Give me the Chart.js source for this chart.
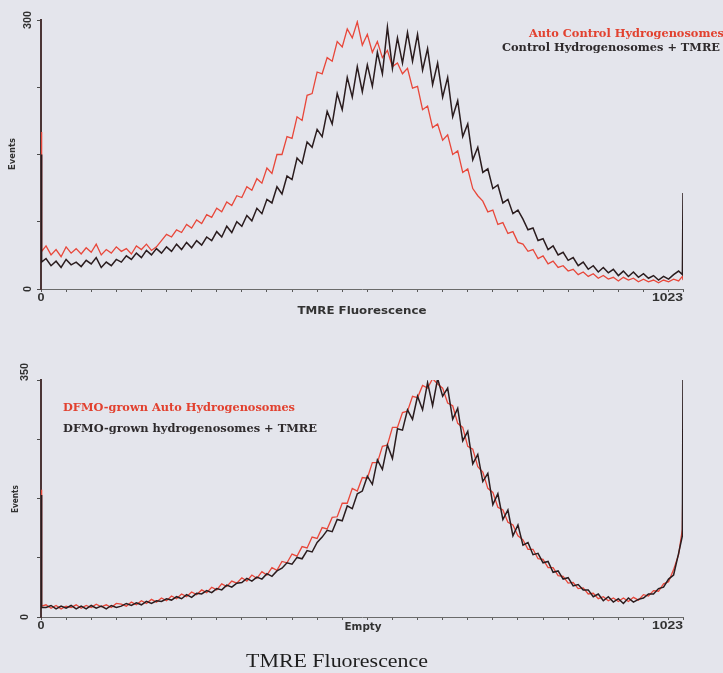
<!DOCTYPE html>
<html><head><meta charset="utf-8">
<script src="https://cdn.jsdelivr.net/npm/chart.js@4.4.1/dist/chart.umd.min.js"></script>
<style>
html,body{margin:0;padding:0;background:#e4e5ec;}
#wrap{position:relative;width:723px;height:673px;overflow:hidden;background:#e4e5ec;}
canvas{position:absolute;left:0;}
</style></head><body>
<div id="wrap">
<canvas id="c1" width="723" height="335" style="top:0"></canvas>
<canvas id="c2" width="723" height="338" style="top:335px"></canvas>
</div>
<script>
// Channel positions (0..1023)
const channels = [0,1,8,16,24,32,40,48,56,64,72,80,88,96,104,112,120,128,136,144,152,160,168,176,184,192,200,208,216,224,232,240,248,256,264,272,280,288,296,304,312,320,328,336,344,352,360,368,376,384,392,400,408,416,424,432,440,448,456,464,472,480,488,496,504,512,520,528,536,544,552,560,568,576,584,592,600,608,616,624,632,640,648,656,664,672,680,688,696,704,712,720,728,736,744,752,760,768,776,784,792,800,808,816,824,832,840,848,856,864,872,880,888,896,904,912,920,928,936,944,952,960,968,976,984,992,1000,1008,1016,1022,1023];

// Top panel: Auto Control Hydrogenosomes (red)
const topAuto = [175,42,
 48,38,44,36,47,40,45,
 39,46,41,50,38,44,40,47,
 42,45,39,48,44,50,43,47,
 54,61,58,66,63,72,68,77,
 73,83,80,90,86,97,93,104,
 102,114,110,123,118,135,129,150,
 150,170,168,192,188,216,218,242,
 240,258,254,276,270,290,280,298,
 272,284,264,276,258,266,248,252,
 240,246,224,226,200,204,180,184,
 166,172,150,154,130,134,112,104,
 98,86,88,72,74,62,64,52,
 50,42,44,34,37,28,31,24,
 26,20,22,16,19,14,17,12,
 15,11,13,9,13,10,12,8,
 11,8,10,7,10,8,11,9,
 14,10];

// Top panel: Control Hydrogenosomes + TMRE (black)
const topTMRE = [150,30,
 34,26,31,24,33,27,30,
 25,32,28,35,24,30,26,33,
 30,37,33,40,35,43,38,45,
 40,47,42,50,44,52,46,54,
 49,58,54,64,58,70,63,75,
 70,82,76,90,84,100,96,114,
 106,126,122,146,140,164,158,178,
 170,198,184,218,200,236,214,248,
 220,250,226,264,240,292,246,280,
 252,286,254,284,244,268,228,252,
 214,236,192,210,170,184,144,158,
 130,134,112,116,96,100,84,88,
 78,66,68,54,56,44,48,38,
 41,32,35,26,30,22,26,19,
 24,18,22,15,20,14,19,13,
 17,12,15,10,14,11,16,20,
 16,107];

// Bottom panel: DFMO-grown Auto Hydrogenosomes (red)
const botAuto = [188,16,
 18,13,17,12,16,14,18,
 13,17,14,19,15,18,14,20,
 19,16,22,18,24,20,26,22,
 28,24,31,27,34,30,37,33,
 40,36,44,40,49,45,53,50,
 58,53,62,57,67,62,73,69,
 82,80,93,90,104,102,118,116,
 132,130,147,148,168,168,190,186,
 206,205,228,228,252,254,280,280,
 302,304,326,324,342,338,352,344,
 338,316,312,286,280,252,248,222,
 214,190,184,162,158,140,136,120,
 114,100,100,86,85,73,73,61,
 60,50,51,42,43,34,35,27,
 30,24,28,23,28,23,29,25,
 33,31,39,38,49,52,70,92,
 130,222];

// Bottom panel: DFMO-grown hydrogenosomes + TMRE (black)
const botTMRE = [180,14,
 14,17,12,16,13,17,12,
 16,12,17,13,16,12,17,14,
 16,20,17,21,18,23,20,24,
 23,27,25,30,27,33,29,35,
 34,39,36,42,40,47,44,50,
 51,57,53,59,56,64,60,68,
 72,80,78,88,86,98,96,110,
 118,128,126,144,142,164,160,182,
 186,208,196,232,218,254,234,278,
 276,306,292,326,306,346,312,352,
 326,338,292,308,260,274,226,240,
 200,212,166,182,144,158,120,136,
 106,110,92,94,80,82,66,68,
 56,58,46,48,40,40,30,34,
 24,30,22,27,20,28,22,26,
 28,34,34,42,44,56,62,94,
 120,360];

const xTickValues = [0,40,80,120,160,200,240,280,320,360,400,440,480,520,560,600,640,680,720,760,800,840,880,920,960,1000,1023];
const xTickLabels = {0:'0', 1023:'1023'};
const topYTicks = [0,75,150,225,300];
const topYLabels = {0:'0', 300:'300'};
const botYTicks = [0,87.5,175,262.5,350];
const botYLabels = {0:'0', 350:'350'};

const RED = '#e8473a';
const DARK = '#2a1c1e';
const TEXT = '#323232';

function toXY(ys){ return channels.map((c,i)=>({x:c, y:ys[i]})); }

function fitText(ctx, text, x, y, w, align){
  const m = ctx.measureText(text).width;
  const s = w / m;
  ctx.save();
  ctx.translate(x, y);
  ctx.scale(s, 1);
  ctx.textAlign = align;
  ctx.textBaseline = 'middle';
  ctx.fillText(text, 0, 0);
  ctx.restore();
}

const textPlugin = {
  id: 'panelText',
  afterDraw(chart, args, opts){
    const ctx = chart.ctx;
    const xs = chart.scales.x, ys = chart.scales.y;
    const area = chart.chartArea;
    ctx.save();
    ctx.fillStyle = TEXT;
    ctx.font = 'bold 11px "Liberation Sans", Arial, sans-serif';
    for (const v of Object.keys(opts.xLabels)) {
      const val = +v;
      const px = xs.getPixelForValue(val);
      const t = opts.xLabels[v];
      if (val === 0) fitText(ctx, t, px, area.bottom + 9, 7, 'center');
      else fitText(ctx, t, px, area.bottom + 9, 31, 'right');
    }
    for (const v of Object.keys(opts.yLabels)) {
      const val = +v;
      const py = ys.getPixelForValue(val);
      const t = opts.yLabels[v];
      ctx.save();
      ctx.translate(opts.yLabelX, py + (opts.yLabelShift[v] || 0));
      ctx.rotate(-Math.PI/2);
      fitText(ctx, t, 0, 0, t.length * 6, 'center');
      ctx.restore();
    }
    ctx.font = 'bold 10px "DejaVu Sans", Arial, sans-serif';
    const xt = opts.xTitle;
    fitText(ctx, xt.text, xt.x, xt.y, xt.w, 'center');
    const yt = opts.yTitle;
    ctx.save();
    ctx.translate(yt.x, yt.y);
    ctx.rotate(-Math.PI/2);
    ctx.font = 'bold 9px "DejaVu Sans", Arial, sans-serif';
    fitText(ctx, yt.text, 0, 0, yt.w, 'center');
    ctx.restore();
    ctx.font = 'bold 11px "DejaVu Serif", "Liberation Serif", serif';
    for (const l of opts.legend) {
      ctx.fillStyle = l.color;
      fitText(ctx, l.text, l.x, l.y, l.w, l.align);
    }
    if (opts.caption) {
      const c = opts.caption;
      ctx.fillStyle = '#1e1e1e';
      ctx.font = '18px "Liberation Serif", "Times New Roman", serif';
      fitText(ctx, c.text, c.x, c.y, c.w, 'center');
    }
    ctx.restore();
  }
};

function makeChart(id, autoData, tmreData, yMax, yTicks, cfg){
  return new Chart(document.getElementById(id), {
    type: 'line',
    data: {
      datasets: [
        { label: cfg.tmreLabel, data: toXY(tmreData), borderColor: DARK, borderWidth: 1.5, pointRadius: 0, tension: 0, fill: false },
        { label: cfg.autoLabel, data: toXY(autoData), borderColor: RED, borderWidth: 1.3, pointRadius: 0, tension: 0, fill: false }
      ]
    },
    options: {
      responsive: false,
      animation: false,
      devicePixelRatio: 1,
      layout: { padding: cfg.padding },
      plugins: {
        legend: { display: false },
        tooltip: { enabled: false },
        panelText: cfg.text
      },
      scales: {
        x: {
          type: 'linear', min: 0, max: 1023,
          afterBuildTicks: s => { s.ticks = xTickValues.map(v => ({ value: v })); },
          afterFit: s => { s.height = cfg.xHeight; },
          ticks: { display: false },
          grid: { display: true, drawOnChartArea: false, drawTicks: true, tickLength: 3, color: '#5a5a5a', lineWidth: 1 },
          border: { display: true, color: '#6a6a6a', width: 1 }
        },
        y: {
          type: 'linear', min: 0, max: yMax,
          afterBuildTicks: s => { s.ticks = yTicks.map(v => ({ value: v })); },
          afterFit: s => { s.width = 41; },
          ticks: { display: false },
          grid: { display: true, drawOnChartArea: false, drawTicks: true, tickLength: 4, color: '#4a4a4a', lineWidth: 1 },
          border: { display: true, color: '#4b3536', width: 2 }
        }
      }
    },
    plugins: [textPlugin]
  });
}

makeChart('c1', topAuto, topTMRE, 300, topYTicks, {
  autoLabel: 'Auto Control Hydrogenosomes',
  tmreLabel: 'Control Hydrogenosomes + TMRE',
  padding: { left: 0, right: 40, top: 20, bottom: 0 },
  xHeight: 46,
  text: {
    xLabels: xTickLabels,
    yLabels: topYLabels,
    yLabelX: 28,
    yLabelShift: {},
    xTitle: { text: 'TMRE Fluorescence', x: 362, y: 311, w: 129 },
    yTitle: { text: 'Events', x: 13, y: 154, w: 32 },
    legend: [
      { text: 'Auto Control Hydrogenosomes', color: '#e2412f', x: 724, y: 34, w: 195, align: 'right' },
      { text: 'Control Hydrogenosomes + TMRE', color: '#2e2a2c', x: 720, y: 48, w: 218, align: 'right' }
    ]
  }
});

makeChart('c2', botAuto, botTMRE, 350, botYTicks, {
  autoLabel: 'DFMO-grown Auto Hydrogenosomes',
  tmreLabel: 'DFMO-grown hydrogenosomes + TMRE',
  padding: { left: 0, right: 40, top: 45, bottom: 0 },
  xHeight: 56,
  text: {
    xLabels: xTickLabels,
    yLabels: botYLabels,
    yLabelX: 25,
    yLabelShift: { 350: -8 },
    xTitle: { text: 'Empty', x: 363, y: 292, w: 37 },
    yTitle: { text: 'Events', x: 16, y: 164, w: 28 },
    legend: [
      { text: 'DFMO-grown Auto Hydrogenosomes', color: '#e2412f', x: 63, y: 73, w: 232, align: 'left' },
      { text: 'DFMO-grown hydrogenosomes + TMRE', color: '#2e2a2c', x: 63, y: 94, w: 254, align: 'left' }
    ],
    caption: { text: 'TMRE Fluorescence', x: 337, y: 327, w: 182 }
  }
});
</script>
</body></html>
